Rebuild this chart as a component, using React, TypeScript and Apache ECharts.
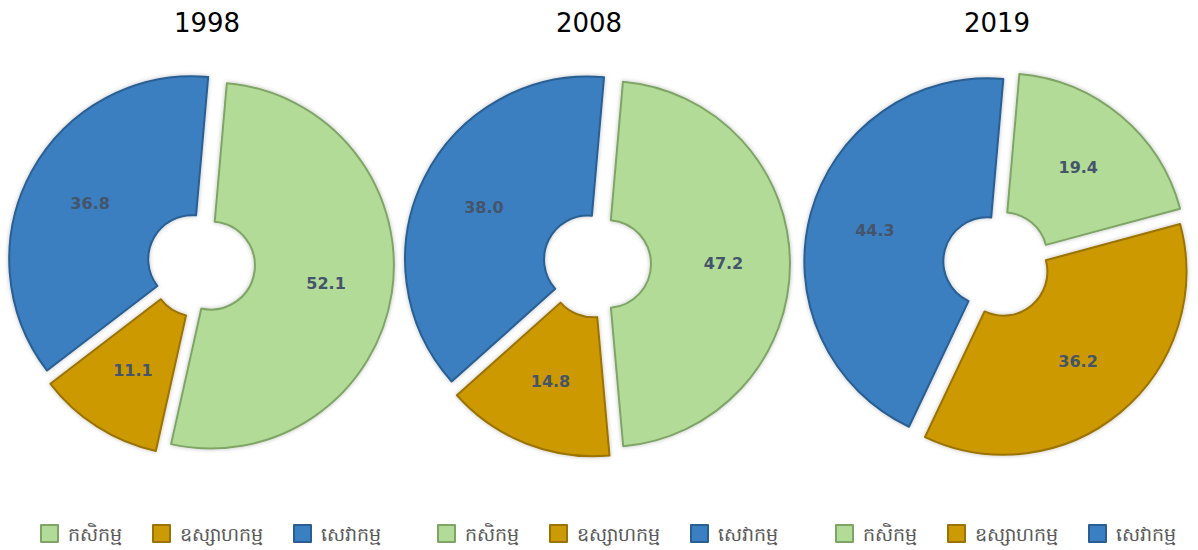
import React, { useEffect, useRef } from "react";
import * as echarts from "echarts";

const categories = ["កសិកម្ម", "ឧស្សាហកម្ម", "សេវាកម្ម"];
const years = ["1998", "2008", "2019"];
const values1998 = [52.1, 11.1, 36.8];
const values2008 = [47.2, 14.8, 38.0];
const values2019 = [19.4, 36.2, 44.3];
const allValues = [values1998, values2008, values2019];

const colors = ["#B2DB97", "#CC9A05", "#3A7FC1"];
const borderColors = ["#7FA566", "#9A7303", "#2A5E92"];
const centersX = [201, 597, 997];
const centerY = 264;
const titleX = [202, 584, 992];
const legendLeft = [40, 437, 835];

export default function App() {
  const ref = useRef<HTMLDivElement>(null);
  useEffect(() => {
    if (!ref.current) return;
    const chart = echarts.init(ref.current, undefined, { renderer: "svg" });
    const series = allValues.map((vals, si) => ({
      type: "pie",
      center: [centersX[si], centerY],
      radius: [44, 183],
      startAngle: 85,
      clockwise: true,
      selectedMode: "multiple",
      selectedOffset: 10,
      avoidLabelOverlap: false,
      emphasis: { disabled: true },
      label: {
        show: true,
        position: "inside",
        formatter: (p: any) => p.value.toFixed(1),
        color: "#44546A",
        fontWeight: "bold",
        fontSize: 16,
        fontFamily: "DejaVu Sans",
      },
      labelLine: { show: false },
      itemStyle: {
        borderWidth: 2,
        shadowBlur: 4,
        shadowColor: "rgba(0,0,0,0.25)",
      },
      data: vals.map((v, i) => ({
        name: categories[i],
        value: v,
        selected: true,
        itemStyle: { color: colors[i], borderColor: borderColors[i] },
      })),
    }));
    const option: any = {
      animation: false,
      backgroundColor: "#ffffff",
      color: colors,
      title: years.map((y, i) => ({
        text: y,
        left: titleX[i],
        top: 5,
        textAlign: "center",
        textStyle: {
          fontFamily: "DejaVu Sans",
          fontSize: 26,
          fontWeight: "normal",
          color: "#000000",
        },
      })),
      legend: legendLeft.map((l) => ({
        data: categories,
        left: l,
        top: 524,
        padding: 0,
        orient: "horizontal",
        itemWidth: 17,
        itemHeight: 17,
        itemGap: 30,
        icon: "rect",
        selectedMode: false,
        textStyle: {
          color: "#595959",
          fontSize: 19,
          fontFamily: "Noto Sans",
          padding: [0, 0, 0, 5],
        },
      })),
      series,
    };
    chart.setOption(option);
    return () => chart.dispose();
  }, []);
  return (
    <div
      ref={ref}
      style={{ position: "absolute", left: 0, top: 0, width: 1198, height: 550 }}
    />
  );
}
